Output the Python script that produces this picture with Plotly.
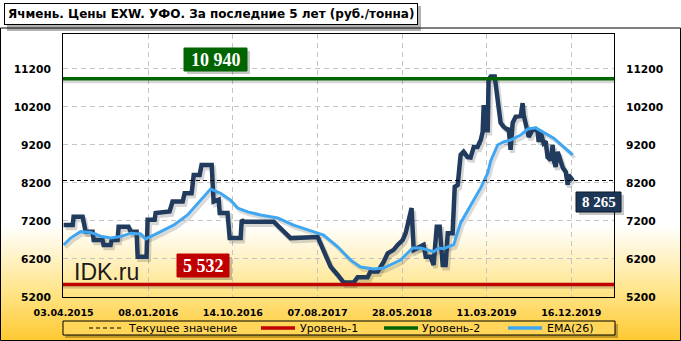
import base64
import plotly.graph_objects as go

# ---------------- data ----------------
tick_idx = [0, 40, 80, 120, 160, 200, 240]
tick_labels = ["03.04.2015", "08.01.2016", "14.10.2016", "07.08.2017",
               "28.05.2018", "11.03.2019", "16.12.2019"]
y_ticks = [5200, 6200, 7200, 8200, 9200, 10200, 11200]
y_tick_labels = ["5200", "6200", "7200", "8200", "9200", "10200", "11200"]

# week index (category position on the x axis) and price, rub/t
price_week = [0, 4.3, 4.7, 9, 10.4, 13.7, 14.2, 18.4, 18.9, 22.2, 22.7, 25.5, 26, 30.7,
              31.7, 34.5, 35, 39.2, 39.7, 43, 43.5, 50.1, 51.5, 56.3, 57.2, 60.5, 61.5,
              64.3, 65.2, 70, 70.9, 73.3, 73.8, 77.5, 78.5, 83.7, 84.2, 85.1, 99.3, 102.6,
              107.3, 120.1, 122.9, 126.2, 129.6, 132.4, 137.1, 139, 143.7, 145.1, 148.5,
              151.3, 153.2, 156, 157.9, 160.3, 161.7, 163.1, 164.5, 165.5, 167.8, 170.2,
              171.2, 173.5, 174.9, 176.4, 177.8, 179.2, 180.6, 181.6, 183.9, 184.9, 186.3,
              186.8, 187.7, 189.1, 191, 192.4, 193.9, 195.7, 197.2, 198.1, 198.6, 199.5,
              200.5, 200.9, 201.9, 203.8, 205.2, 206.6, 208, 209.9, 210.4, 211.3, 212.3,
              213.7, 216.1, 217, 217.5, 219.4, 219.9, 221.7, 223.2, 224.1, 224.6, 225.5,
              226.9, 227.9, 228.8, 230.3, 231.2, 231.7, 232.6, 233.6, 235, 236, 237.4,
              238.3, 238.8, 239.7, 240.7]
price_val = [7095, 7095, 7310, 7310, 6920, 6920, 6700, 6700, 6570, 6570, 6700, 6700, 7050,
             7050, 6920, 6920, 6260, 6260, 7230, 7230, 7410, 7450, 7710, 7710, 7930, 7930,
             8410, 8410, 8670, 8670, 7710, 7760, 7410, 7410, 6750, 6750, 7226, 7180, 7180,
             7000, 6750, 6780, 6440, 6000, 5780, 5580, 5580, 5720, 5720, 5870, 5870, 6120,
             6350, 6440, 6570, 6700, 6880, 7280, 7540, 6440, 6490, 6570, 6260, 6260, 6040,
             7050, 7050, 6040, 6040, 6880, 6880, 8100, 8150, 8460, 8940, 9020, 8880, 8870,
             9150, 9150, 9330, 9540, 10250, 9590, 9590, 10910, 11000, 11000, 10460, 9780,
             9680, 9600, 9650, 9070, 9780, 9940, 9960, 10300, 9990, 9600, 9410, 9600, 9620,
             9550, 9280, 9540, 9250, 9300, 8880, 8800, 9200, 8800, 8620, 9020, 8800, 8600,
             8490, 8150, 8410, 8360, 8265]

ema_week = [0, 3.3, 8, 12.8, 17.5, 22.2, 27, 31.7, 36.4, 38.8, 42.6, 47.3, 52, 58.6, 64.8,
            69.5, 74.2, 78.9, 82.3, 87, 93.1, 101.2, 108.7, 118.2, 122.9, 129.6, 135.7,
            140.4, 146.6, 151.3, 154.6, 159.3, 165, 168.8, 172.1, 174.9, 177.3, 179.7,
            181.6, 184.4, 187.7, 191, 193.9, 197.2, 200.5, 201.9, 205.2, 208, 211.3, 216.1,
            219.4, 223.2, 226.9, 231.7, 236.4, 240.7]
ema_val = [6570, 6750, 6920, 6900, 6800, 6750, 6790, 6880, 6860, 6730, 6830, 6960, 7090,
           7360, 7750, 8040, 7930, 7750, 7540, 7440, 7360, 7280, 7090, 6920, 6830, 6520,
           6170, 5990, 5940, 5960, 6040, 6170, 6490, 6490, 6440, 6390, 6490, 6470, 6520,
           6570, 7150, 7490, 7750, 8070, 8460, 8780, 9200, 9280, 9330, 9460, 9620, 9650,
           9540, 9380, 9150, 8940]

current_value = 8265
level1 = 5532
level2 = 10940

title = "Ячмень. Цены EXW. УФО. За последние 5 лет (руб./тонна)"
legend_names = ["Текущее значение", "Уровень-1", "Уровень-2", "EMA(26)"]

# ---------------- style ----------------
W, H = 681, 341
L, R, T, B = 63, 614, 34, 297
X_RANGE = [-0.3, 260.2]
Y_RANGE = [5200, 12120]
PRICE_C = "#213b5e"
EMA_C = "#3fa6f2"
RED_C = "#c00000"
GREEN_C = "#006400"
NAVY_C = "#1c3657"
SANS = "DejaVu Sans, Verdana, sans-serif"
SERIF = "Liberation Serif, Times New Roman, serif"


def px(x):
    return (x - L) / (R - L)


def py(y):
    return (B - y) / (B - T)


svg = ("<svg xmlns='http://www.w3.org/2000/svg' width='681' height='341' "
       "preserveAspectRatio='none'><defs><linearGradient id='g' x1='0' y1='0' x2='0' y2='1'>"
       "<stop offset='0' stop-color='#ffffff'/><stop offset='0.66' stop-color='#ffffff'/>"
       "<stop offset='0.85' stop-color='#ffe58c'/>"
       "<stop offset='1' stop-color='#ffc930'/></linearGradient></defs>"
       "<rect width='681' height='341' fill='url(#g)'/></svg>")
bg_src = "data:image/svg+xml;base64," + base64.b64encode(svg.encode()).decode()

fig = go.Figure()

# shadows
dx, dy = 0.95, -75
fig.add_trace(go.Scatter(x=[v + dx for v in price_week], y=[v + dy for v in price_val],
                         mode="lines", line=dict(color="rgba(0,0,0,0.16)", width=5),
                         hoverinfo="skip", showlegend=False))
fig.add_trace(go.Scatter(x=[v + dx for v in ema_week], y=[v + dy for v in ema_val],
                         mode="lines", line=dict(color="rgba(0,0,0,0.14)", width=3.5),
                         hoverinfo="skip", showlegend=False))
for lv in (level1, level2):
    fig.add_trace(go.Scatter(x=X_RANGE, y=[lv + dy, lv + dy], mode="lines",
                             line=dict(color="rgba(0,0,0,0.16)", width=3),
                             hoverinfo="skip", showlegend=False))

fig.add_trace(go.Scatter(x=price_week, y=price_val, mode="lines", name="Цена",
                         line=dict(color=PRICE_C, width=4.5, shape="linear"),
                         showlegend=False))
fig.add_trace(go.Scatter(x=ema_week, y=ema_val, mode="lines", name=legend_names[3],
                         line=dict(color=EMA_C, width=3), showlegend=False))
fig.add_trace(go.Scatter(x=X_RANGE, y=[level1, level1], mode="lines", name=legend_names[1],
                         line=dict(color=RED_C, width=3.5), showlegend=False))
fig.add_trace(go.Scatter(x=X_RANGE, y=[level2, level2], mode="lines", name=legend_names[2],
                         line=dict(color=GREEN_C, width=3.5), showlegend=False))
fig.add_trace(go.Scatter(x=X_RANGE, y=[current_value, current_value], mode="lines",
                         name=legend_names[0],
                         line=dict(color="black", width=1, dash="4px,3px"), showlegend=False))
# invisible trace to activate right axis
fig.add_trace(go.Scatter(x=[X_RANGE[0]], y=[Y_RANGE[0]], yaxis="y2", mode="markers",
                         marker=dict(opacity=0), hoverinfo="skip", showlegend=False))

shapes = []
annotations = []
# outer frame
shapes.append(dict(type="rect", xref="paper", yref="paper", x0=px(0.5), x1=px(680.5),
                   y0=py(340.5), y1=py(28), line=dict(color="black", width=1), layer="below"))
# legend box
shapes.append(dict(type="rect", xref="paper", yref="paper", x0=px(65), x1=px(618),
                   y0=py(338), y1=py(324), fillcolor="rgba(0,0,0,0.25)",
                   line=dict(width=0), layer="above"))
shapes.append(dict(type="rect", xref="paper", yref="paper", x0=px(63), x1=px(615),
                   y0=py(335), y1=py(321), fillcolor="#ffd659",
                   line=dict(color="black", width=1), layer="above"))
leg_y = py(328)
leg_items = [(89, 122, "black", 1, "4px,3px", 126),
             (261, 295, RED_C, 3.5, "solid", 298),
             (384, 418, GREEN_C, 3.5, "solid", 420),
             (508, 542, EMA_C, 3.5, "solid", 545)]
for (a, b, c, w, d, tx), name in zip(leg_items, legend_names):
    shapes.append(dict(type="line", xref="paper", yref="paper", x0=px(a), x1=px(b),
                       y0=leg_y, y1=leg_y, line=dict(color=c, width=w, dash=d), layer="above"))
    annotations.append(dict(xref="paper", yref="paper", x=px(tx), y=leg_y, text=name,
                            showarrow=False, xanchor="left", yanchor="middle",
                            font=dict(family=SANS, size=11, color="black")))
# title shadow + box
shapes.append(dict(type="rect", xref="paper", yref="paper", x0=px(7), x1=px(421),
                   y0=py(31), y1=py(6), fillcolor="rgba(0,0,0,0.3)", line=dict(width=0),
                   layer="above"))
annotations.append(dict(xref="paper", yref="paper", x=px(4), y=py(3), text=title,
                        showarrow=False, xanchor="left", yanchor="top",
                        bgcolor="white", bordercolor="black", borderwidth=1, borderpad=3,
                        font=dict(family=SANS, size=12, color="black", weight="bold")))


def value_box(x0, x1, y0, y1, value, color, size, border=None):
    shapes.append(dict(type="rect", xref="paper", yref="paper", x0=px(x0 + 3),
                       x1=px(x1 + 3), y0=py(y1 + 3), y1=py(y0 + 3),
                       fillcolor="rgba(0,0,0,0.22)", line=dict(width=0), layer="above"))
    shapes.append(dict(type="rect", xref="paper", yref="paper", x0=px(x0), x1=px(x1),
                       y0=py(y1), y1=py(y0), fillcolor=color,
                       line=dict(color=border or color, width=1), layer="above"))
    annotations.append(dict(xref="paper", yref="paper", x=px((x0 + x1) / 2),
                            y=py((y0 + y1) / 2), xanchor="center", yanchor="middle",
                            text=f"{value:,}".replace(",", " "), showarrow=False,
                            font=dict(family=SERIF, size=size, color="white",
                                      weight="bold")))


value_box(184, 247, 48, 71, level2, GREEN_C, 18)
value_box(177, 229, 254, 277, level1, RED_C, 18)
value_box(576, 621, 192, 212, current_value, NAVY_C, 15, "#0d1a2b")

annotations.append(dict(xref="paper", yref="paper", x=px(106), y=py(272), text="IDK.ru",
                        showarrow=False, xanchor="center", yanchor="middle",
                        font=dict(family="Liberation Sans, Arial, sans-serif", size=23,
                                  color="#1a1a1a")))

grid = dict(showgrid=True, gridcolor="#c4c4c4", gridwidth=1, griddash="5px,4px")
fig.update_layout(
    width=W, height=H,
    margin=dict(l=L, r=W - R, t=T, b=H - B, pad=0),
    paper_bgcolor="rgba(0,0,0,0)", plot_bgcolor="rgba(0,0,0,0)",
    showlegend=False,
    xaxis=dict(range=X_RANGE, tickmode="array", tickvals=tick_idx, ticktext=tick_labels,
               showline=True, linecolor="black", linewidth=1, mirror=True, ticks="",
               zeroline=False, ticklabelstandoff=7,
               tickfont=dict(family=SANS, size=9.5, color="black", weight="bold"), **grid),
    yaxis=dict(range=Y_RANGE, tickmode="array", tickvals=y_ticks, ticktext=y_tick_labels,
               showline=True, linecolor="black", linewidth=1, mirror=True, ticks="",
               zeroline=False, ticklabelstandoff=9,
               tickfont=dict(family=SANS, size=10.7, color="black", weight="bold"), **grid),
    yaxis2=dict(range=Y_RANGE, tickmode="array", tickvals=y_ticks, ticktext=y_tick_labels,
                overlaying="y", side="right", showgrid=False, zeroline=False, ticks="",
                ticklabelstandoff=11,
                tickfont=dict(family=SANS, size=10.7, color="black", weight="bold")),
    shapes=shapes, annotations=annotations,
    images=[dict(source=bg_src, xref="paper", yref="paper", x=px(0), y=py(0),
                 sizex=W / (R - L), sizey=H / (B - T), sizing="stretch",
                 xanchor="left", yanchor="top", layer="below")],
)

fig.write_html("out.html")
